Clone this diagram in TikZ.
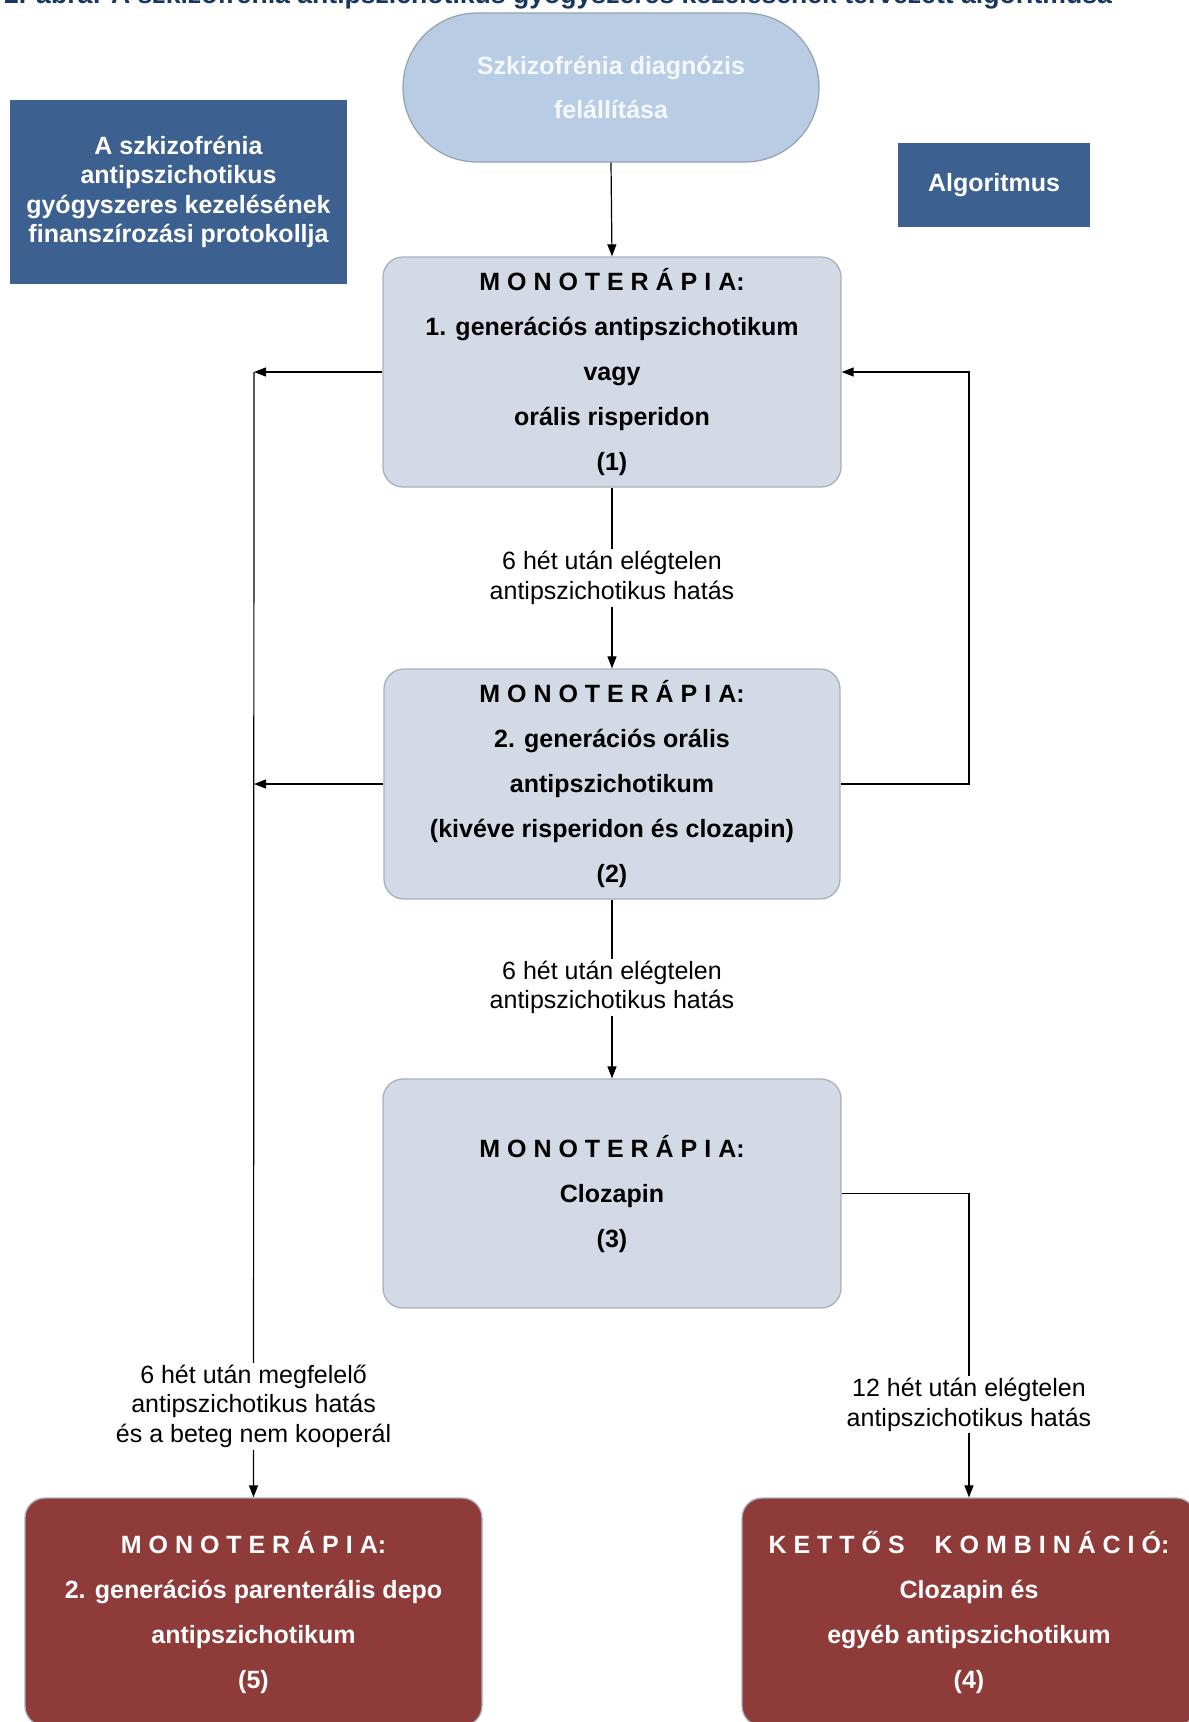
\documentclass[tikz,border=0pt]{standalone}
\usepackage{fontspec}
\setmainfont{Liberation Sans}
\usetikzlibrary{arrows.meta}
\definecolor{boxfill}{RGB}{211,218,229}
\definecolor{boxline}{RGB}{166,176,190}
\definecolor{startfill}{RGB}{184,204,228}
\definecolor{startline}{RGB}{150,162,178}
\definecolor{navybox}{RGB}{60,97,144}
\definecolor{redbox}{RGB}{142,59,58}
\definecolor{titlecol}{RGB}{23,55,94}
\definecolor{starttext}{RGB}{244,247,251}
\begin{document}
\begin{tikzpicture}[x=1pt,y=-1pt,
  stepbox/.style={draw=boxline,line width=1.3pt,fill=boxfill,rounded corners=20pt,
    minimum width=458pt,minimum height=230pt,align=center,inner sep=0pt,
    font=\fontsize{25}{45}\selectfont\bfseries},
  redstep/.style={stepbox,fill=redbox,text=white,minimum height=228pt},
  navy/.style={fill=navybox,text=white,align=center,inner sep=0pt,
    font=\fontsize{25}{29.6}\selectfont\bfseries},
  startbox/.style={draw=startline,line width=1.2pt,fill=startfill,text=starttext,
    rounded corners=74pt,minimum width=416pt,minimum height=149pt,align=center,
    inner sep=0pt,font=\fontsize{25}{44}\selectfont\bfseries},
  lbl/.style={fill=white,align=center,inner sep=2pt,font=\fontsize{25}{29.5}\selectfont},
  arr/.style={line width=1.2pt,-{Triangle[length=12pt,width=9pt]}},
  conn/.style={line width=1.2pt}
]
\useasboundingbox (0,0) rectangle (1189,1722);
\clip (0,0) rectangle (1189,1722);

\node[anchor=base west,inner sep=0pt,text=titlecol,font=\fontsize{26.6}{30}\selectfont\bfseries] (title) at (4,3)
  {2. ábra: A szkizofrénia antipszichotikus gyógyszeres kezelésének tervezett algoritmusa};

\node[startbox] (start) at (611,87.5) {Szkizofrénia diagnózis\\felállítása};

\node[navy,minimum width=337pt,minimum height=184pt] (proto) at (178.5,192)
  {A szkizofrénia\\antipszichotikus\\gyógyszeres kezelésének\\finanszírozási protokollja};

\node[navy,minimum width=192pt,minimum height=84pt] (algo) at (994,185) {Algoritmus};

\node[stepbox] (b1) at (612,372)
  {M O N O T E R Á P I A:\\1. generációs antipszichotikum\\vagy\\orális risperidon\\(1)};
\node[stepbox,minimum width=456pt] (b2) at (612,784)
  {M O N O T E R Á P I A:\\2. generációs orális\\antipszichotikum\\(kivéve risperidon és clozapin)\\(2)};
\node[stepbox,minimum height=229pt] (b3) at (612,1193.5)
  {M O N O T E R Á P I A:\\Clozapin\\(3)};
\node[redstep,minimum width=457pt] (b5) at (253.5,1612)
  {M O N O T E R Á P I A:\\2. generációs parenterális depo\\antipszichotikum\\(5)};
\node[redstep,minimum width=454pt] (b4) at (969,1612)
  {K E T T Ő S\hspace{30pt}K O M B I N Á C I Ó:\\Clozapin és\\egyéb antipszichotikum\\(4)};

\coordinate (L1) at (254,372);
\coordinate (L2) at (254,784);
\coordinate (R1) at (969,372);
\coordinate (R2) at (969,784);
\coordinate (R3) at (969,1193.5);

\draw[arr] (start.south) -- (b1.north);
\draw[arr] (b1.south) -- node[lbl,pos=0.5]{6 hét után elégtelen\\antipszichotikus hatás} (b2.north);
\draw[arr] (b2.south) -- node[lbl,pos=0.49]{6 hét után elégtelen\\antipszichotikus hatás} (b3.north);
\draw[arr] (b1.west) -- (L1);
\draw[arr] (b2.west) -- (L2);
\draw[arr] (L1) -- node[lbl,pos=0.919]{6 hét után megfelelő\\antipszichotikus hatás\\és a beteg nem kooperál} (b5.north);
\draw[arr] (b2.east) -- (R2) -- (R1) -- (b1.east);
\draw[arr] (b3.east) -- (R3) -- node[lbl,pos=0.695]{12 hét után elégtelen\\antipszichotikus hatás} (b4.north);
\end{tikzpicture}
\end{document}
